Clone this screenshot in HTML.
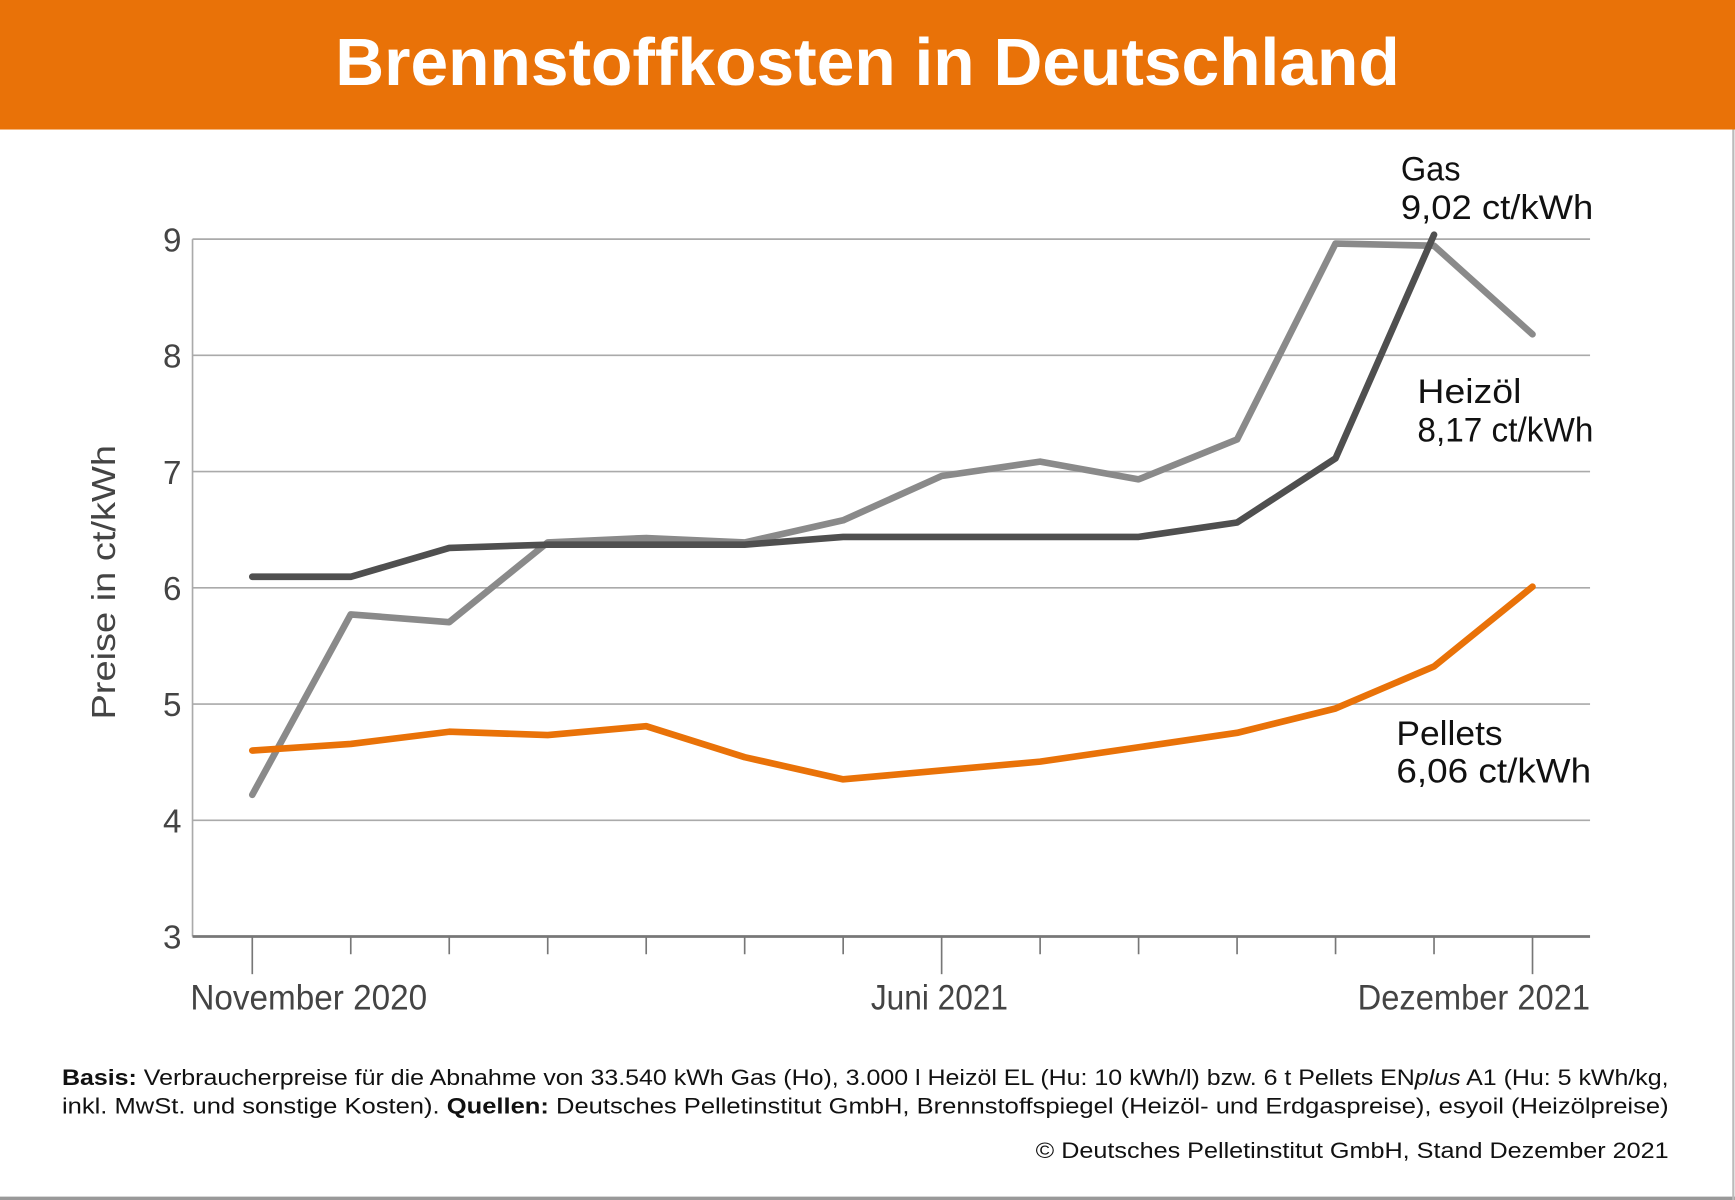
<!DOCTYPE html>
<html><head><meta charset="utf-8"><style>
html,body{margin:0;padding:0;background:#fff;}
svg{display:block;}
text{font-family:"Liberation Sans Narrow","Liberation Sans",sans-serif;}
</style></head><body>
<svg width="1735" height="1200" viewBox="0 0 1568 1084" preserveAspectRatio="none" xmlns="http://www.w3.org/2000/svg">
<rect x="0" y="0" width="1568" height="1084" fill="#fff"/>
<rect x="0" y="0" width="1568" height="117" fill="#E97208"/>
<text x="784" y="77" text-anchor="middle" fill="#fff" font-size="60" font-weight="bold" textLength="962" lengthAdjust="spacingAndGlyphs" style="font-family:'Liberation Sans',sans-serif">Brennstoffkosten in Deutschland</text>
<line x1="0" y1="1082.5" x2="1568" y2="1082.5" stroke="#999" stroke-width="3"/>
<line x1="1566.5" y1="117" x2="1566.5" y2="1084" stroke="#bbb" stroke-width="2"/>
<g stroke="#aaa" stroke-width="1.5">
<line x1="174" y1="216" x2="1437" y2="216"/>
<line x1="174" y1="321" x2="1437" y2="321"/>
<line x1="174" y1="426" x2="1437" y2="426"/>
<line x1="174" y1="531" x2="1437" y2="531"/>
<line x1="174" y1="636" x2="1437" y2="636"/>
<line x1="174" y1="741" x2="1437" y2="741"/>
<line x1="174" y1="216" x2="174" y2="846"/>
</g>
<line x1="174" y1="846" x2="1437" y2="846" stroke="#777" stroke-width="2.5"/>
<g stroke="#777" stroke-width="1.5">
<line x1="228" y1="846" x2="228" y2="880"/>
<line x1="317" y1="846" x2="317" y2="862"/>
<line x1="406" y1="846" x2="406" y2="862"/>
<line x1="495" y1="846" x2="495" y2="862"/>
<line x1="584" y1="846" x2="584" y2="862"/>
<line x1="673" y1="846" x2="673" y2="862"/>
<line x1="762" y1="846" x2="762" y2="862"/>
<line x1="851" y1="846" x2="851" y2="880"/>
<line x1="940" y1="846" x2="940" y2="862"/>
<line x1="1029" y1="846" x2="1029" y2="862"/>
<line x1="1118" y1="846" x2="1118" y2="862"/>
<line x1="1207" y1="846" x2="1207" y2="862"/>
<line x1="1296" y1="846" x2="1296" y2="862"/>
<line x1="1385" y1="846" x2="1385" y2="880"/>
</g>
<g font-size="30" fill="#444" text-anchor="end">
<text x="164" y="227">9</text><text x="164" y="332">8</text><text x="164" y="437">7</text>
<text x="164" y="542">6</text><text x="164" y="647">5</text><text x="164" y="752">4</text><text x="164" y="857">3</text>
</g>
<text transform="translate(104,526) rotate(-90)" text-anchor="middle" font-size="30" fill="#444" textLength="248" lengthAdjust="spacingAndGlyphs">Preise in ct/kWh</text>
<g font-size="32" fill="#444">
<text x="172" y="912" textLength="214" lengthAdjust="spacingAndGlyphs">November 2020</text>
<text x="787" y="912" textLength="124" lengthAdjust="spacingAndGlyphs">Juni 2021</text>
<text x="1227" y="912" textLength="210" lengthAdjust="spacingAndGlyphs">Dezember 2021</text>
</g>
<g fill="none" stroke-width="6" stroke-linejoin="round" stroke-linecap="round">
<polyline stroke="#8a8a8a" points="228,718 317,555 406,562 495,490 584,486 673,490 762,470 851,430 940,417 1029,433 1118,397 1207,220 1296,222 1385,302"/>
<polyline stroke="#4f4f4f" points="228,521 317,521 406,495 495,492 584,492 673,492 762,485 851,485 940,485 1029,485 1118,472 1207,414 1296,212"/>
<polyline stroke="#E97208" points="228,678 317,672 406,661 495,664 584,656 673,684 762,704 851,696 940,688 1029,675 1118,662 1207,640 1296,602 1385,530"/>
</g>
<g font-size="31" fill="#111">
<text x="1266" y="163" textLength="54" lengthAdjust="spacingAndGlyphs">Gas</text>
<text x="1266" y="198" textLength="174" lengthAdjust="spacingAndGlyphs">9,02 ct/kWh</text>
<text x="1281" y="364" textLength="94" lengthAdjust="spacingAndGlyphs">Heizöl</text>
<text x="1281" y="399" textLength="159" lengthAdjust="spacingAndGlyphs">8,17 ct/kWh</text>
<text x="1262" y="673" textLength="96" lengthAdjust="spacingAndGlyphs">Pellets</text>
<text x="1262" y="707" textLength="176" lengthAdjust="spacingAndGlyphs">6,06 ct/kWh</text>
</g>
<g font-size="20" fill="#111">
<text x="56" y="980" textLength="1452" lengthAdjust="spacingAndGlyphs"><tspan font-weight="bold">Basis:</tspan> Verbraucherpreise für die Abnahme von 33.540 kWh Gas (Ho), 3.000 l Heizöl EL (Hu: 10 kWh/l) bzw. 6 t Pellets EN<tspan font-style="italic">plus</tspan> A1 (Hu: 5 kWh/kg,</text>
<text x="56" y="1006" textLength="1452" lengthAdjust="spacingAndGlyphs">inkl. MwSt. und sonstige Kosten). <tspan font-weight="bold">Quellen:</tspan> Deutsches Pelletinstitut GmbH, Brennstoffspiegel (Heizöl- und Erdgaspreise), esyoil (Heizölpreise)</text>
<text x="1508" y="1046" text-anchor="end" textLength="572" lengthAdjust="spacingAndGlyphs">© Deutsches Pelletinstitut GmbH, Stand Dezember 2021</text>
</g>
</svg>
</body></html>
